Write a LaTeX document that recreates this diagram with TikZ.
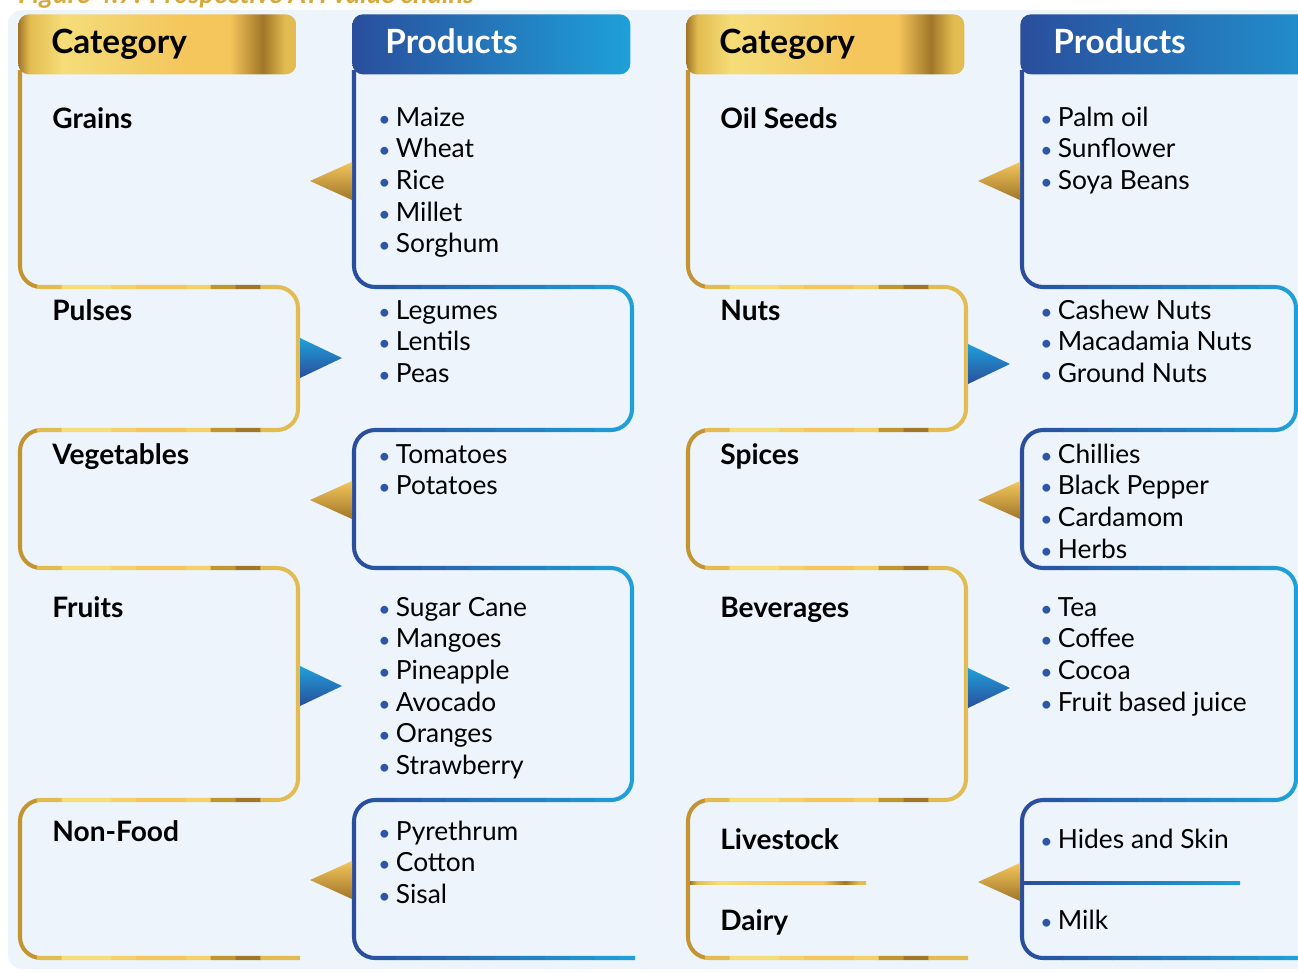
\documentclass[tikz,border=0pt]{standalone}
\usepackage{fontspec}
\setmainfont{Lato}
\usetikzlibrary{positioning}

\definecolor{panel}{HTML}{EDF4FC}
\definecolor{golddark}{HTML}{A07628}
\definecolor{goldA}{HTML}{C29532}
\definecolor{goldB}{HTML}{E2BC50}
\definecolor{goldlight}{HTML}{F5DD78}
\definecolor{goldC}{HTML}{F3D06A}
\definecolor{goldmid}{HTML}{F5C65C}
\definecolor{goldD}{HTML}{C2962F}
\definecolor{bluedark}{HTML}{2A4E9C}
\definecolor{bluelight}{HTML}{1FA0D9}
\definecolor{bulletblue}{HTML}{2E56A6}
\definecolor{captiongold}{HTML}{D6A93C}

% metallic band for the category headers
\pgfdeclarehorizontalshading{goldbar}{100bp}{%
  color(0bp)=(golddark); color(25bp)=(golddark); color(27bp)=(goldB);
  color(33bp)=(goldlight); color(45bp)=(goldC); color(55bp)=(goldmid);
  color(63bp)=(goldmid); color(69bp)=(golddark); color(73bp)=(goldB);
  color(75bp)=(goldB); color(100bp)=(goldB)}

% one serpentine rule down a column: left x, right x, end x
\newcommand\snake[3]{(#1,70) -- (#1,287) -- (#2,287) -- (#2,430) -- (#1,430)
  -- (#1,568) -- (#2,568) -- (#2,800) -- (#1,800) -- (#1,958) -- (#3,958)}

% the rule is drawn in narrow vertical strips so its colour runs across
\newcommand\goldsnake[3]{%
  \foreach \c [count=\i from 0] in {goldA,goldB,goldlight,goldlight,goldC,goldmid,
      goldmid,goldC,goldD,golddark,goldB,goldB}{
    \pgfmathsetmacro\xa{#1-8+\i*(#2-#1+20)/12}
    \begin{scope}
      \clip (\xa,0) rectangle ++({(#2-#1+20)/12+0.5},971);
      \draw[snakeline, draw=\c] \snake{#1}{#2}{#3};
    \end{scope}}}
\newcommand\bluesnake[3]{%
  \foreach \i in {0,...,11}{
    \pgfmathsetmacro\xa{#1-8+\i*(#2-#1+20)/12}
    \pgfmathtruncatemacro\p{100-\i*100/11}
    \begin{scope}
      \clip (\xa,0) rectangle ++({(#2-#1+20)/12+0.5},971);
      \draw[snakeline, draw=bluedark!\p!bluelight] \snake{#1}{#2}{#3};
    \end{scope}}}

% pointers between the two columns
\newcommand\tipleft[2]{\shade[goldtip] (#1,#2-19) -- (#1-42,#2) -- (#1,#2+19) -- cycle;}
\newcommand\tipright[2]{\shade[bluetip] (#1,#2-20) -- (#1+42,#2) -- (#1,#2+20) -- cycle;}

\newcommand\prodbullet{\makebox[10pt][l]{\textcolor{bulletblue}{\fontsize{12}{12}\selectfont\textbullet}}}
% bulleted list: name, x, first baseline, items
\newcommand\products[4]{%
  \foreach \t [count=\i] in {#4}{
    \pgfmathsetmacro\yy{#3+31.7*(\i-1)}
    \node[item] (#1\i) at (#2,\yy) {\prodbullet\t};}}

\begin{document}
\begin{tikzpicture}[x=0.02cm, y=-0.02cm,
  catlabel/.style={anchor=base west, inner sep=0, font=\fontsize{16}{19}\selectfont\bfseries},
  item/.style={anchor=base west, inner sep=0, font=\fontsize{15}{18}\selectfont},
  head/.style={anchor=north west, rounded corners=6pt, minimum height=1.2cm,
    inner xsep=0.66cm, text width=4.24cm, align=left, text height=14pt, text depth=4pt,
    font=\fontsize{19}{22}\selectfont\bfseries},
  cathead/.style={head, shading=goldbar},
  prodhead/.style={head, left color=bluedark, right color=bluelight, text=white},
  goldtip/.style={top color=goldmid, middle color=goldlight, bottom color=golddark},
  bluetip/.style={top color=bluelight, bottom color=bluedark},
  snakeline/.style={line width=2.3pt, rounded corners=12pt}]
  \path[use as bounding box] (0,0) rectangle (1298,971);
  \clip (0,0) rectangle (1298,971);

  \node[anchor=base west, inner sep=0, text=captiongold,
    font=\fontsize{15.5}{18}\selectfont\bfseries\itshape] (caption) at (18,3)
    {Figure 4.7: Prospective ATI value chains};
  \fill[panel, rounded corners=8pt] (8,10) rectangle (1340,969);

  % column rules
  \goldsnake{20}{298}{300}
  \bluesnake{354}{632}{635}
  \goldsnake{688}{966}{968}
  \bluesnake{1022}{1296}{1310}

  % headers
  \node[cathead] (cat1) at (18,14) {Category};
  \node[prodhead] (prod1) at (352,14) {Products};
  \node[cathead] (cat2) at (686,14) {Category};
  \node[prodhead, text width=6cm] (prod2) at (1020,14) {Products};

  % pointers
  \tipleft{352}{181}
  \tipright{300}{358}
  \tipleft{352}{500}
  \tipright{300}{686}
  \tipleft{352}{880}
  \tipleft{1020}{181}
  \tipright{968}{364}
  \tipleft{1020}{500}
  \tipright{968}{688}
  \tipleft{1020}{882}

  % livestock / dairy split
  \shade[shading=goldbar] (690,881.5) rectangle (866,884.5);
  \shade[left color=bluedark, right color=bluelight] (1022,881.5) rectangle (1240,884.5);

  % left half
  \node[catlabel] (grains) at (52,128) {Grains};
  \node[catlabel] (pulses) at (52,320) {Pulses};
  \node[catlabel] (veg) at (52,464) {Vegetables};
  \node[catlabel] (fruits) at (52,617) {Fruits};
  \node[catlabel] (nonfood) at (52,841) {Non-Food};
  \products{grains}{378}{126}{Maize,Wheat,Rice,Millet,Sorghum}
  \products{pulses}{378}{319}{Legumes,Lentils,Peas}
  \products{veg}{378}{463}{Tomatoes,Potatoes}
  \products{fruits}{378}{616}{Sugar Cane,Mangoes,Pineapple,Avocado,Oranges,Strawberry}
  \products{nonfood}{378}{840}{Pyrethrum,Cotton,Sisal}

  % right half
  \node[catlabel] (oil) at (720,128) {Oil Seeds};
  \node[catlabel] (nuts) at (720,320) {Nuts};
  \node[catlabel] (spices) at (720,464) {Spices};
  \node[catlabel] (bev) at (720,617) {Beverages};
  \node[catlabel] (livestock) at (720,849) {Livestock};
  \node[catlabel] (dairy) at (720,930) {Dairy};
  \products{oil}{1040}{126}{Palm oil,Sunflower,Soya Beans}
  \products{nuts}{1040}{319}{Cashew Nuts,Macadamia Nuts,Ground Nuts}
  \products{spices}{1040}{463}{Chillies,Black Pepper,Cardamom,Herbs}
  \products{bev}{1040}{616}{Tea,Coffee,Cocoa,Fruit based juice}
  \products{livestock}{1040}{848}{Hides and Skin}
  \products{dairy}{1040}{929}{Milk}
\end{tikzpicture}
\end{document}
